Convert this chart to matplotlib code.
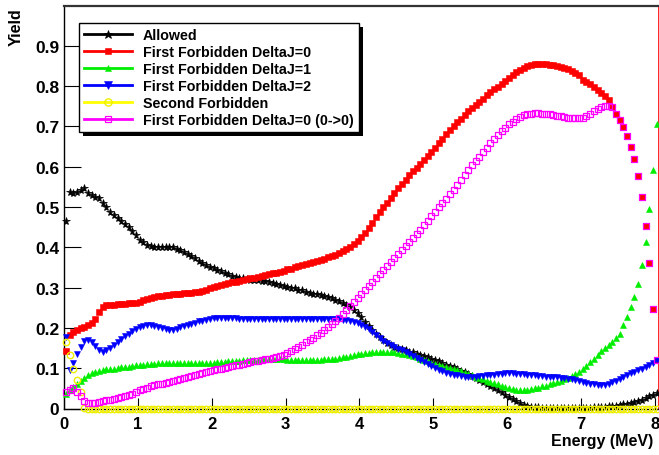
import numpy as np
import matplotlib
matplotlib.use("Agg")
import matplotlib.pyplot as plt
from matplotlib.lines import Line2D
from matplotlib.patches import Rectangle

# ---------------- data (bin centres, 0.05 MeV bins from 0 to 8.05 MeV) ----------------
energy = np.round(np.arange(161) * 0.05 + 0.025, 3)

allowed = [
    0.466, 0.538, 0.535, 0.537, 0.542, 0.546, 0.535, 0.530, 0.526, 0.522,
    0.509, 0.499, 0.488, 0.481, 0.473, 0.465, 0.457, 0.450, 0.440, 0.430,
    0.419, 0.412, 0.406, 0.403, 0.401, 0.400, 0.400, 0.401, 0.401, 0.400,
    0.397, 0.393, 0.389, 0.384, 0.379, 0.373, 0.367, 0.362, 0.356, 0.352,
    0.348, 0.343, 0.340, 0.336, 0.333, 0.330, 0.327, 0.325, 0.323, 0.322,
    0.320, 0.319, 0.318, 0.317, 0.316, 0.314, 0.312, 0.309, 0.306, 0.304,
    0.302, 0.300, 0.298, 0.295, 0.293, 0.290, 0.287, 0.285, 0.283, 0.281,
    0.279, 0.276, 0.273, 0.270, 0.266, 0.262, 0.257, 0.251, 0.244, 0.236,
    0.226, 0.215, 0.204, 0.194, 0.185, 0.177, 0.169, 0.163, 0.157, 0.153,
    0.150, 0.147, 0.144, 0.141, 0.139, 0.136, 0.133, 0.130, 0.127, 0.124,
    0.120, 0.117, 0.113, 0.109, 0.105, 0.102, 0.098, 0.094, 0.090, 0.085,
    0.081, 0.076, 0.071, 0.066, 0.062, 0.057, 0.052, 0.046, 0.040, 0.034,
    0.029, 0.023, 0.018, 0.013, 0.009, 0.006, 0.004, 0.003, 0.003, 0.002,
    0.002, 0.002, 0.002, 0.002, 0.002, 0.002, 0.002, 0.002, 0.002, 0.002,
    0.002, 0.002, 0.002, 0.003, 0.003, 0.004, 0.004, 0.005, 0.006, 0.007,
    0.008, 0.010, 0.012, 0.014, 0.016, 0.019, 0.022, 0.026, 0.030, 0.034,
    0.039,
]

ff_dj0 = [
    0.143, 0.183, 0.190, 0.195, 0.199, 0.203, 0.207, 0.212, 0.222, 0.240,
    0.252, 0.256, 0.257, 0.258, 0.259, 0.259, 0.260, 0.261, 0.262, 0.263,
    0.265, 0.268, 0.271, 0.275, 0.277, 0.279, 0.280, 0.281, 0.282, 0.283,
    0.284, 0.285, 0.286, 0.286, 0.287, 0.288, 0.290, 0.292, 0.294, 0.298,
    0.302, 0.305, 0.307, 0.309, 0.311, 0.313, 0.315, 0.317, 0.319, 0.321,
    0.323, 0.325, 0.327, 0.329, 0.331, 0.333, 0.335, 0.337, 0.339, 0.342,
    0.345, 0.347, 0.350, 0.353, 0.355, 0.358, 0.361, 0.364, 0.367, 0.369,
    0.372, 0.375, 0.378, 0.381, 0.385, 0.390, 0.395, 0.401, 0.407, 0.415,
    0.425, 0.436, 0.448, 0.461, 0.474, 0.487, 0.499, 0.511, 0.523, 0.535,
    0.546, 0.557, 0.568, 0.579, 0.589, 0.598, 0.607, 0.616, 0.626, 0.637,
    0.647, 0.658, 0.669, 0.680, 0.690, 0.700, 0.710, 0.719, 0.728, 0.737,
    0.745, 0.753, 0.761, 0.769, 0.777, 0.785, 0.792, 0.799, 0.806, 0.813,
    0.820, 0.827, 0.834, 0.840, 0.845, 0.849, 0.852, 0.854, 0.855, 0.855,
    0.854, 0.853, 0.852, 0.850, 0.848, 0.845, 0.842, 0.838, 0.833, 0.828,
    0.815, 0.810, 0.804, 0.797, 0.790, 0.783, 0.775, 0.765, 0.748, 0.732,
    0.716, 0.698, 0.676, 0.649, 0.618, 0.577, 0.524, 0.454, 0.362, 0.248,
    0.120,
]

ff_dj1 = [
    0.037, 0.046, 0.053, 0.060, 0.067, 0.076, 0.082, 0.087, 0.091, 0.094,
    0.096, 0.097, 0.098, 0.099, 0.100, 0.102, 0.103, 0.104, 0.106, 0.107,
    0.108, 0.109, 0.110, 0.111, 0.111, 0.112, 0.112, 0.112, 0.112, 0.112,
    0.112, 0.112, 0.113, 0.113, 0.113, 0.113, 0.113, 0.113, 0.113, 0.114,
    0.114, 0.115, 0.115, 0.116, 0.117, 0.117, 0.118, 0.119, 0.120, 0.120,
    0.121, 0.121, 0.121, 0.122, 0.122, 0.122, 0.122, 0.122, 0.122, 0.122,
    0.121, 0.121, 0.120, 0.120, 0.120, 0.120, 0.120, 0.120, 0.121, 0.121,
    0.122, 0.122, 0.123, 0.124, 0.125, 0.127, 0.128, 0.130, 0.132, 0.134,
    0.136, 0.137, 0.138, 0.139, 0.140, 0.141, 0.141, 0.141, 0.140, 0.139,
    0.137, 0.136, 0.134, 0.132, 0.130, 0.127, 0.124, 0.121, 0.117, 0.114,
    0.111, 0.109, 0.106, 0.103, 0.100, 0.098, 0.095, 0.092, 0.089, 0.086,
    0.082, 0.078, 0.075, 0.072, 0.069, 0.066, 0.063, 0.060, 0.057, 0.054,
    0.051, 0.049, 0.047, 0.046, 0.046, 0.047, 0.049, 0.050, 0.052, 0.055,
    0.057, 0.060, 0.063, 0.066, 0.069, 0.072, 0.076, 0.080, 0.085, 0.091,
    0.098, 0.106, 0.115, 0.124, 0.133, 0.142, 0.150, 0.158, 0.166, 0.176,
    0.186, 0.207, 0.228, 0.251, 0.276, 0.310, 0.356, 0.414, 0.494, 0.592,
    0.706,
]

ff_dj2 = [
    0.178, 0.095, 0.112, 0.135, 0.153, 0.168, 0.170, 0.165, 0.155, 0.145,
    0.141, 0.144, 0.150, 0.157, 0.165, 0.172, 0.179, 0.186, 0.192, 0.198,
    0.202, 0.205, 0.207, 0.207, 0.205, 0.202, 0.199, 0.197, 0.196, 0.196,
    0.198, 0.201, 0.204, 0.207, 0.210, 0.213, 0.216, 0.218, 0.220, 0.222,
    0.224, 0.225, 0.225, 0.225, 0.225, 0.224, 0.224, 0.223, 0.223, 0.222,
    0.222, 0.222, 0.222, 0.222, 0.223, 0.223, 0.223, 0.223, 0.223, 0.223,
    0.223, 0.223, 0.223, 0.223, 0.223, 0.223, 0.223, 0.223, 0.222, 0.222,
    0.222, 0.222, 0.222, 0.221, 0.221, 0.220, 0.219, 0.217, 0.215, 0.212,
    0.208, 0.203, 0.197, 0.190, 0.182, 0.175, 0.168, 0.162, 0.157, 0.152,
    0.148, 0.144, 0.140, 0.136, 0.131, 0.126, 0.121, 0.116, 0.111, 0.106,
    0.101, 0.096, 0.092, 0.089, 0.086, 0.084, 0.082, 0.080, 0.079, 0.079,
    0.079, 0.079, 0.080, 0.081, 0.082, 0.083, 0.084, 0.085, 0.086, 0.087,
    0.087, 0.087, 0.086, 0.086, 0.085, 0.084, 0.083, 0.082, 0.081, 0.080,
    0.079, 0.078, 0.078, 0.077, 0.076, 0.075, 0.074, 0.072, 0.070, 0.068,
    0.066, 0.064, 0.062, 0.060, 0.058, 0.058, 0.059, 0.062, 0.065, 0.069,
    0.074, 0.078, 0.082, 0.087, 0.091, 0.095, 0.099, 0.104, 0.108, 0.114,
    0.120,
]

second_forbidden = [0.165, 0.133, 0.098, 0.070, 0.040, 0.002] + [0.0] * 155

ff_dj0_00 = [
    0.040, 0.047, 0.050, 0.042, 0.030, 0.018, 0.013, 0.013, 0.014, 0.015,
    0.018, 0.020, 0.022, 0.024, 0.026, 0.028, 0.030, 0.033, 0.037, 0.041,
    0.045, 0.049, 0.052, 0.055, 0.058, 0.060, 0.062, 0.064, 0.066, 0.068,
    0.071, 0.073, 0.076, 0.078, 0.080, 0.083, 0.085, 0.088, 0.090, 0.093,
    0.095, 0.097, 0.099, 0.101, 0.103, 0.105, 0.107, 0.109, 0.111, 0.113,
    0.115, 0.117, 0.119, 0.120, 0.122, 0.124, 0.126, 0.128, 0.130, 0.133,
    0.137, 0.142, 0.147, 0.153, 0.158, 0.164, 0.170, 0.176, 0.182, 0.188,
    0.195, 0.202, 0.209, 0.217, 0.225, 0.234, 0.244, 0.254, 0.264, 0.273,
    0.283, 0.293, 0.303, 0.313, 0.323, 0.333, 0.343, 0.353, 0.363, 0.373,
    0.384, 0.394, 0.404, 0.414, 0.424, 0.434, 0.444, 0.455, 0.466, 0.477,
    0.488, 0.499, 0.510, 0.521, 0.532, 0.543, 0.555, 0.567, 0.579, 0.591,
    0.603, 0.614, 0.625, 0.636, 0.647, 0.658, 0.668, 0.678, 0.688, 0.697,
    0.705, 0.712, 0.718, 0.724, 0.728, 0.731, 0.732, 0.733, 0.733, 0.732,
    0.731, 0.730, 0.729, 0.727, 0.725, 0.723, 0.721, 0.720, 0.720, 0.720,
    0.722, 0.726, 0.731, 0.737, 0.743, 0.747, 0.750, 0.751, 0.748, 0.732,
    0.716, 0.698, 0.676, 0.649, 0.618, 0.577, 0.524, 0.454, 0.362, 0.248,
    0.120,
]

labels = ["Allowed", "First Forbidden DeltaJ=0", "First Forbidden DeltaJ=1",
          "First Forbidden DeltaJ=2", "Second Forbidden",
          "First Forbidden DeltaJ=0 (0->0)"]
x_ticks = [0, 1, 2, 3, 4, 5, 6, 7, 8]
y_ticks = [0, 0.1, 0.2, 0.3, 0.4, 0.5, 0.6, 0.7, 0.8, 0.9]
y_ticklabels = ["0", "0.1", "0.2", "0.3", "0.4", "0.5", "0.6", "0.7", "0.8", "0.9"]

# ---------------- styling ----------------
plt.rcParams["font.family"] = ["Liberation Sans", "DejaVu Sans"]
plt.rcParams["font.weight"] = "bold"

W, H = 659, 456
fig = plt.figure(figsize=(W / 100, H / 100), dpi=100)
fig.patch.set_facecolor("white")

L, R, T, B = 64.0, 658.5, 6.5, 409.5
ax = fig.add_axes([L / W, 1 - B / H, (R - L) / W, (B - T) / H])
ax.set_xlim(0, 8.05)
ax.set_ylim(0, 1.0)

styles = [
    dict(color="black", marker="*", ms=5.8, mfc="black", mec="black", mew=0.5),
    dict(color="red", marker="s", ms=4.3, mfc="red", mec="red", mew=0.4),
    dict(color="#00ee00", marker="^", ms=4.3, mfc="#00ee00", mec="#00ee00", mew=0.4),
    dict(color="blue", marker="v", ms=4.6, mfc="blue", mec="blue", mew=0.4),
    dict(color="#ffff00", marker="o", ms=4.6, mfc="none", mec="#eeee00", mew=1.0),
    dict(color="magenta", marker="s", ms=4.2, mfc="none", mec="magenta", mew=0.9),
]
series = [allowed, ff_dj0, ff_dj1, ff_dj2, second_forbidden, ff_dj0_00]

for i, (vals, st) in enumerate(zip(series, styles)):
    ax.plot(energy, vals, ls="none", marker=st["marker"], ms=st["ms"],
            mfc=st["mfc"], mec=st["mec"], mew=st["mew"], clip_on=False,
            zorder=3 + i * 0.1)

ax.set_xticks(x_ticks)
ax.set_xticklabels([str(v) for v in x_ticks])
ax.set_yticks(y_ticks)
ax.set_yticklabels(y_ticklabels)
ax.tick_params(axis="x", direction="in", length=8, width=0.8, pad=5.5,
               labelsize=12, top=False)
ax.tick_params(axis="y", direction="in", length=12.5, width=0.8, pad=3.5,
               labelsize=12.5, right=False)
for lab in ax.get_xticklabels() + ax.get_yticklabels():
    lab.set_fontweight("bold")

for side in ["left", "bottom"]:
    ax.spines[side].set_color("black")
    ax.spines[side].set_linewidth(1.0)
ax.spines["top"].set_color("#333333")
ax.spines["top"].set_linewidth(1.6)
ax.spines["right"].set_color("red")
ax.spines["right"].set_linewidth(1.2)

fig.text(16.5 / W, 1 - 8 / H, "Yield", rotation=90, ha="center", va="top",
         fontsize=11.5, fontweight="bold")
fig.text(653.5 / W, 1 - 434 / H, "Energy (MeV)", ha="right", va="top",
         fontsize=11.5, fontweight="bold")

# legend
handles = []
for st in styles:
    handles.append(Line2D([], [], color=st["color"], lw=2, marker=st["marker"],
                          ms=st["ms"] + 0.6, mfc=st["mfc"], mec=st["mec"],
                          mew=st["mew"]))
leg_x0, leg_y0 = 78.5, 23.5
leg = ax.legend(handles, labels, loc="upper left",
                bbox_to_anchor=(leg_x0 / W, 1 - leg_y0 / H),
                bbox_transform=fig.transFigure, borderaxespad=0,
                frameon=True, fancybox=False, shadow=False, numpoints=1,
                framealpha=1.0, facecolor="white",
                prop=dict(family="Liberation Sans", weight="bold", size=10.3),
                handlelength=3.4, handletextpad=0.75, labelspacing=0.22,
                borderpad=0.35)
leg.get_frame().set_edgecolor("black")
leg.get_frame().set_linewidth(1.0)
leg.set_zorder(20)

fig.canvas.draw()
bb = leg.get_window_extent()
sh = Rectangle(((bb.x0 + 4) / W, (bb.y0 - 4) / H), bb.width / W, bb.height / H,
               transform=fig.transFigure, facecolor="black", edgecolor="none",
               zorder=19, clip_on=False)
ax.add_patch(sh)

fig.savefig("out.png", dpi=100, facecolor="white")
